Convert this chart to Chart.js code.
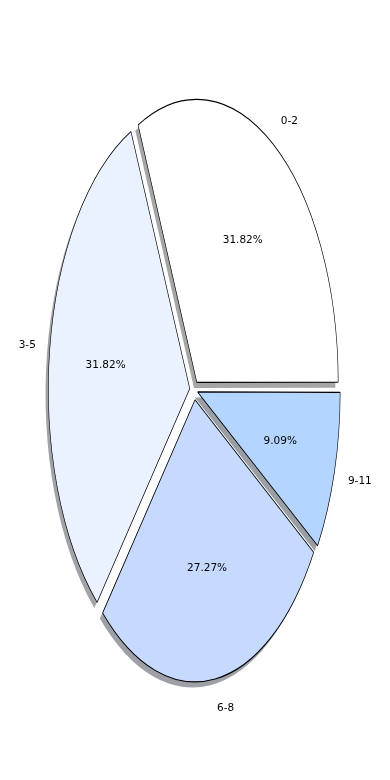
<!DOCTYPE html>
<html>
<head>
<meta charset="utf-8">
<script src="https://cdn.jsdelivr.net/npm/chart.js@4/dist/chart.umd.min.js"></script>
<style>
html,body{margin:0;padding:0;background:#fff;}
#wrap{width:390px;height:780px;position:relative;}
</style>
</head>
<body>
<div id="wrap"><canvas id="c"></canvas></div>
<script>
// Data (matplotlib order, counter-clockwise from 3 o'clock)
const categories = ['0-2', '3-5', '6-8', '9-11'];
const counts = [7, 7, 6, 2];
const sliceColors = ['#ffffff', '#eaf1ff', '#c6daff', '#b4d5ff'];

// Chart.js draws clockwise, so reverse to mimic matplotlib's counter-clockwise order
const labelsCJ = categories.slice().reverse();
const valuesCJ = counts.slice().reverse();
const colorsCJ = sliceColors.slice().reverse();

const RADIUS = 141;      // horizontal radius in px
const YSCALE = 2;        // vertical stretch of the pie
const EXPLODE = 5;       // explode displacement (px, before stretch)
const SHADOW_DX = -2.8, SHADOW_DY = 5.6;

function displacementFix(circ){ return 1 - Math.sin(Math.min(Math.PI, circ)); }

function shadowColor(hex){
  const r = parseInt(hex.slice(1,3),16), g = parseInt(hex.slice(3,5),16), b = parseInt(hex.slice(5,7),16);
  return 'rgba(' + Math.round(r*0.3) + ',' + Math.round(g*0.3) + ',' + Math.round(b*0.3) + ',0.5)';
}

const ellipsePlugin = {
  id: 'ellipse',
  beforeDatasetsDraw(chart){
    const meta = chart.getDatasetMeta(0);
    const a0 = meta.data[0];
    const cx = a0.x, cy = a0.y;
    const ctx = chart.ctx;
    ctx.save();
    ctx.translate(cx, cy); ctx.scale(1, YSCALE); ctx.translate(-cx, -cy);
    // shadows
    ctx.save();
    ctx.translate(SHADOW_DX, SHADOW_DY / YSCALE);
    meta.data.forEach((arc, i) => {
      const o = arc.options;
      const bg = o.backgroundColor, bw = o.borderWidth;
      o.backgroundColor = shadowColor(colorsCJ[i]);
      o.borderWidth = 0;
      arc.draw(ctx);
      o.backgroundColor = bg; o.borderWidth = bw;
    });
    ctx.restore();
  },
  afterDatasetsDraw(chart){
    const ctx = chart.ctx;
    ctx.restore();
    const meta = chart.getDatasetMeta(0);
    const total = valuesCJ.reduce((a,b)=>a+b,0);
    ctx.save();
    ctx.fillStyle = '#000';
    ctx.font = '10.5px "DejaVu Sans"';
    meta.data.forEach((arc, i) => {
      const mid = (arc.startAngle + arc.endAngle) / 2;
      const R = arc.outerRadius;
      const c = Math.cos(mid), s = Math.sin(mid);
      // label at 1.1R
      const rl = EXPLODE + 1.1 * R;
      const lx = arc.x + c * rl, ly = arc.y + s * rl * YSCALE + 1;
      ctx.textBaseline = 'middle';
      ctx.textAlign = c > 0 ? 'left' : 'right';
      ctx.fillText(labelsCJ[i], lx, ly);
      // percentage at 0.6R
      const rp = EXPLODE + 0.6 * R;
      const px = arc.x + c * rp, py = arc.y + s * rp * YSCALE + 1;
      ctx.textAlign = 'center';
      ctx.fillText((valuesCJ[i] / total * 100).toFixed(2) + '%', px, py);
    });
    ctx.restore();
  }
};

new Chart(document.getElementById('c'), {
  type: 'pie',
  data: {
    labels: labelsCJ,
    datasets: [{
      data: valuesCJ,
      backgroundColor: colorsCJ,
      borderColor: '#000',
      borderWidth: 0.6,
      offset: (ctx) => {
        const d = ctx.dataset.data;
        const t = d.reduce((a,b)=>a+b,0);
        const circ = d[ctx.dataIndex] / t * Math.PI * 2;
        return 4 * EXPLODE / (1 + displacementFix(circ));
      },
      hoverOffset: 0
    }]
  },
  options: {
    responsive: true,
    maintainAspectRatio: false,
    animation: false,
    rotation: 90,
    radius: RADIUS,
    layout: { padding: { left: 0, right: 1.4, top: 0, bottom: 0 } },
    plugins: { legend: { display: false }, tooltip: { enabled: false } },
    events: []
  },
  plugins: [ellipsePlugin]
});
</script>
</body>
</html>
